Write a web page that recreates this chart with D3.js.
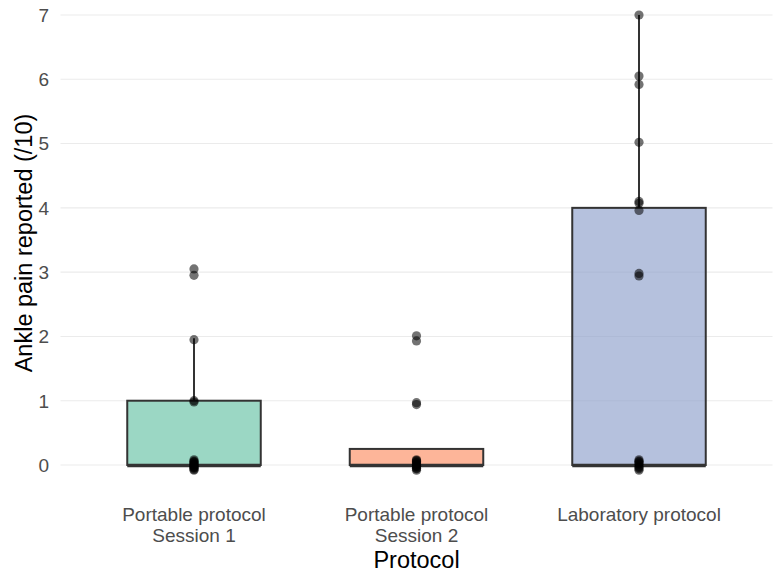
<!DOCTYPE html>
<html><head><meta charset="utf-8">
<script src="https://cdn.jsdelivr.net/npm/d3@7"></script>
<style>body{margin:0;background:#fff}svg{display:block}text{font-family:"Liberation Sans",Arial,sans-serif}</style>
</head><body><svg id="c" width="782" height="578"></svg>
<script>
const categories = ["Portable protocol\nSession 1", "Portable protocol\nSession 2", "Laboratory protocol"];
const fills = ["#66C2A5", "#FC8D62", "#8DA0CB"];
// box statistics per category
const q1 = [0, 0, 0];
const medians = [0, 0, 0];
const q3 = [1, 0.25, 4];
const whiskerHigh = [1.97, 0.25, 7];
// jittered observed pain scores
const points1 = [3.05, 2.95, 1.95, 1.0, 0.98, 0.08, 0.06, 0.04, 0.02, 0.0, -0.02, -0.04, -0.05, -0.07, -0.08, 0.05, -0.03, 0.01];
const points2 = [2.01, 1.93, 0.97, 0.94, 0.08, 0.06, 0.03, 0.01, -0.01, -0.03, -0.05, -0.06, -0.08, 0.04, -0.02, 0.07];
const points3 = [7.0, 6.05, 5.92, 5.02, 4.1, 4.07, 3.96, 2.98, 2.94, 0.08, 0.06, 0.03, 0.01, -0.02, -0.04, -0.06, -0.08, 0.05];
const points = [points1, points2, points3];
const yTicks = [0, 1, 2, 3, 4, 5, 6, 7];

const svg = d3.select("#c");
const left = 60.5, right = 772.5, yZero = 465, ySeven = 15;
const x = d3.scalePoint().domain(categories).range([left, right]).padding(0.6);
const step = x.step();
const y = d3.scaleLinear().domain([0, 7]).range([yZero, ySeven]);

// gridlines
svg.append("g").selectAll("line").data(yTicks).join("line")
  .attr("x1", left).attr("x2", right).attr("y1", d => y(d)).attr("y2", d => y(d))
  .attr("stroke", "#ebebeb").attr("stroke-width", 1.1);
// y tick labels
svg.append("g").selectAll("text").data(yTicks).join("text")
  .attr("x", 49).attr("y", d => y(d)).attr("dy", "0.36em")
  .attr("text-anchor", "end").attr("font-size", 19).attr("fill", "#4d4d4d").text(d => d);

// boxes
const bw = step * 0.6;
const g = svg.append("g");
categories.forEach((c, i) => {
  const cx = x(c);
  if (whiskerHigh[i] > q3[i]) {
    g.append("line").attr("x1", cx).attr("x2", cx).attr("y1", y(q3[i])).attr("y2", y(whiskerHigh[i]))
      .attr("stroke", "#333").attr("stroke-width", 2);
  }
  g.append("rect").attr("x", cx - bw / 2).attr("width", bw)
    .attr("y", y(q3[i])).attr("height", y(q1[i]) - y(q3[i]))
    .attr("fill", fills[i]).attr("fill-opacity", 0.65)
    .attr("stroke", "#333").attr("stroke-width", 2);
  g.append("line").attr("x1", cx - bw / 2).attr("x2", cx + bw / 2)
    .attr("y1", y(medians[i]) + 0.5).attr("y2", y(medians[i]) + 0.5)
    .attr("stroke", "#333").attr("stroke-width", 3.5);
});

// points
categories.forEach((c, i) => {
  svg.append("g").selectAll("circle").data(points[i]).join("circle")
    .attr("cx", x(c)).attr("cy", d => y(d)).attr("r", 4.6)
    .attr("fill", "#000").attr("fill-opacity", 0.55);
});

// x tick labels
categories.forEach(c => {
  const lines = c.split("\n");
  const t = svg.append("text").attr("x", x(c)).attr("y", 521).attr("text-anchor", "middle")
    .attr("font-size", 19).attr("fill", "#4d4d4d");
  lines.forEach((l, j) => t.append("tspan").attr("x", x(c)).attr("dy", j === 0 ? 0 : 20.5).text(l));
});

// axis titles
svg.append("text").attr("x", (left + right) / 2).attr("y", 568).attr("text-anchor", "middle")
  .attr("font-size", 23.5).attr("fill", "#000").text("Protocol");
svg.append("text").attr("transform", "translate(32,243) rotate(-90)")
  .attr("text-anchor", "middle").attr("font-size", 23.5).attr("fill", "#000").text("Ankle pain reported (/10)");
</script></body></html>
